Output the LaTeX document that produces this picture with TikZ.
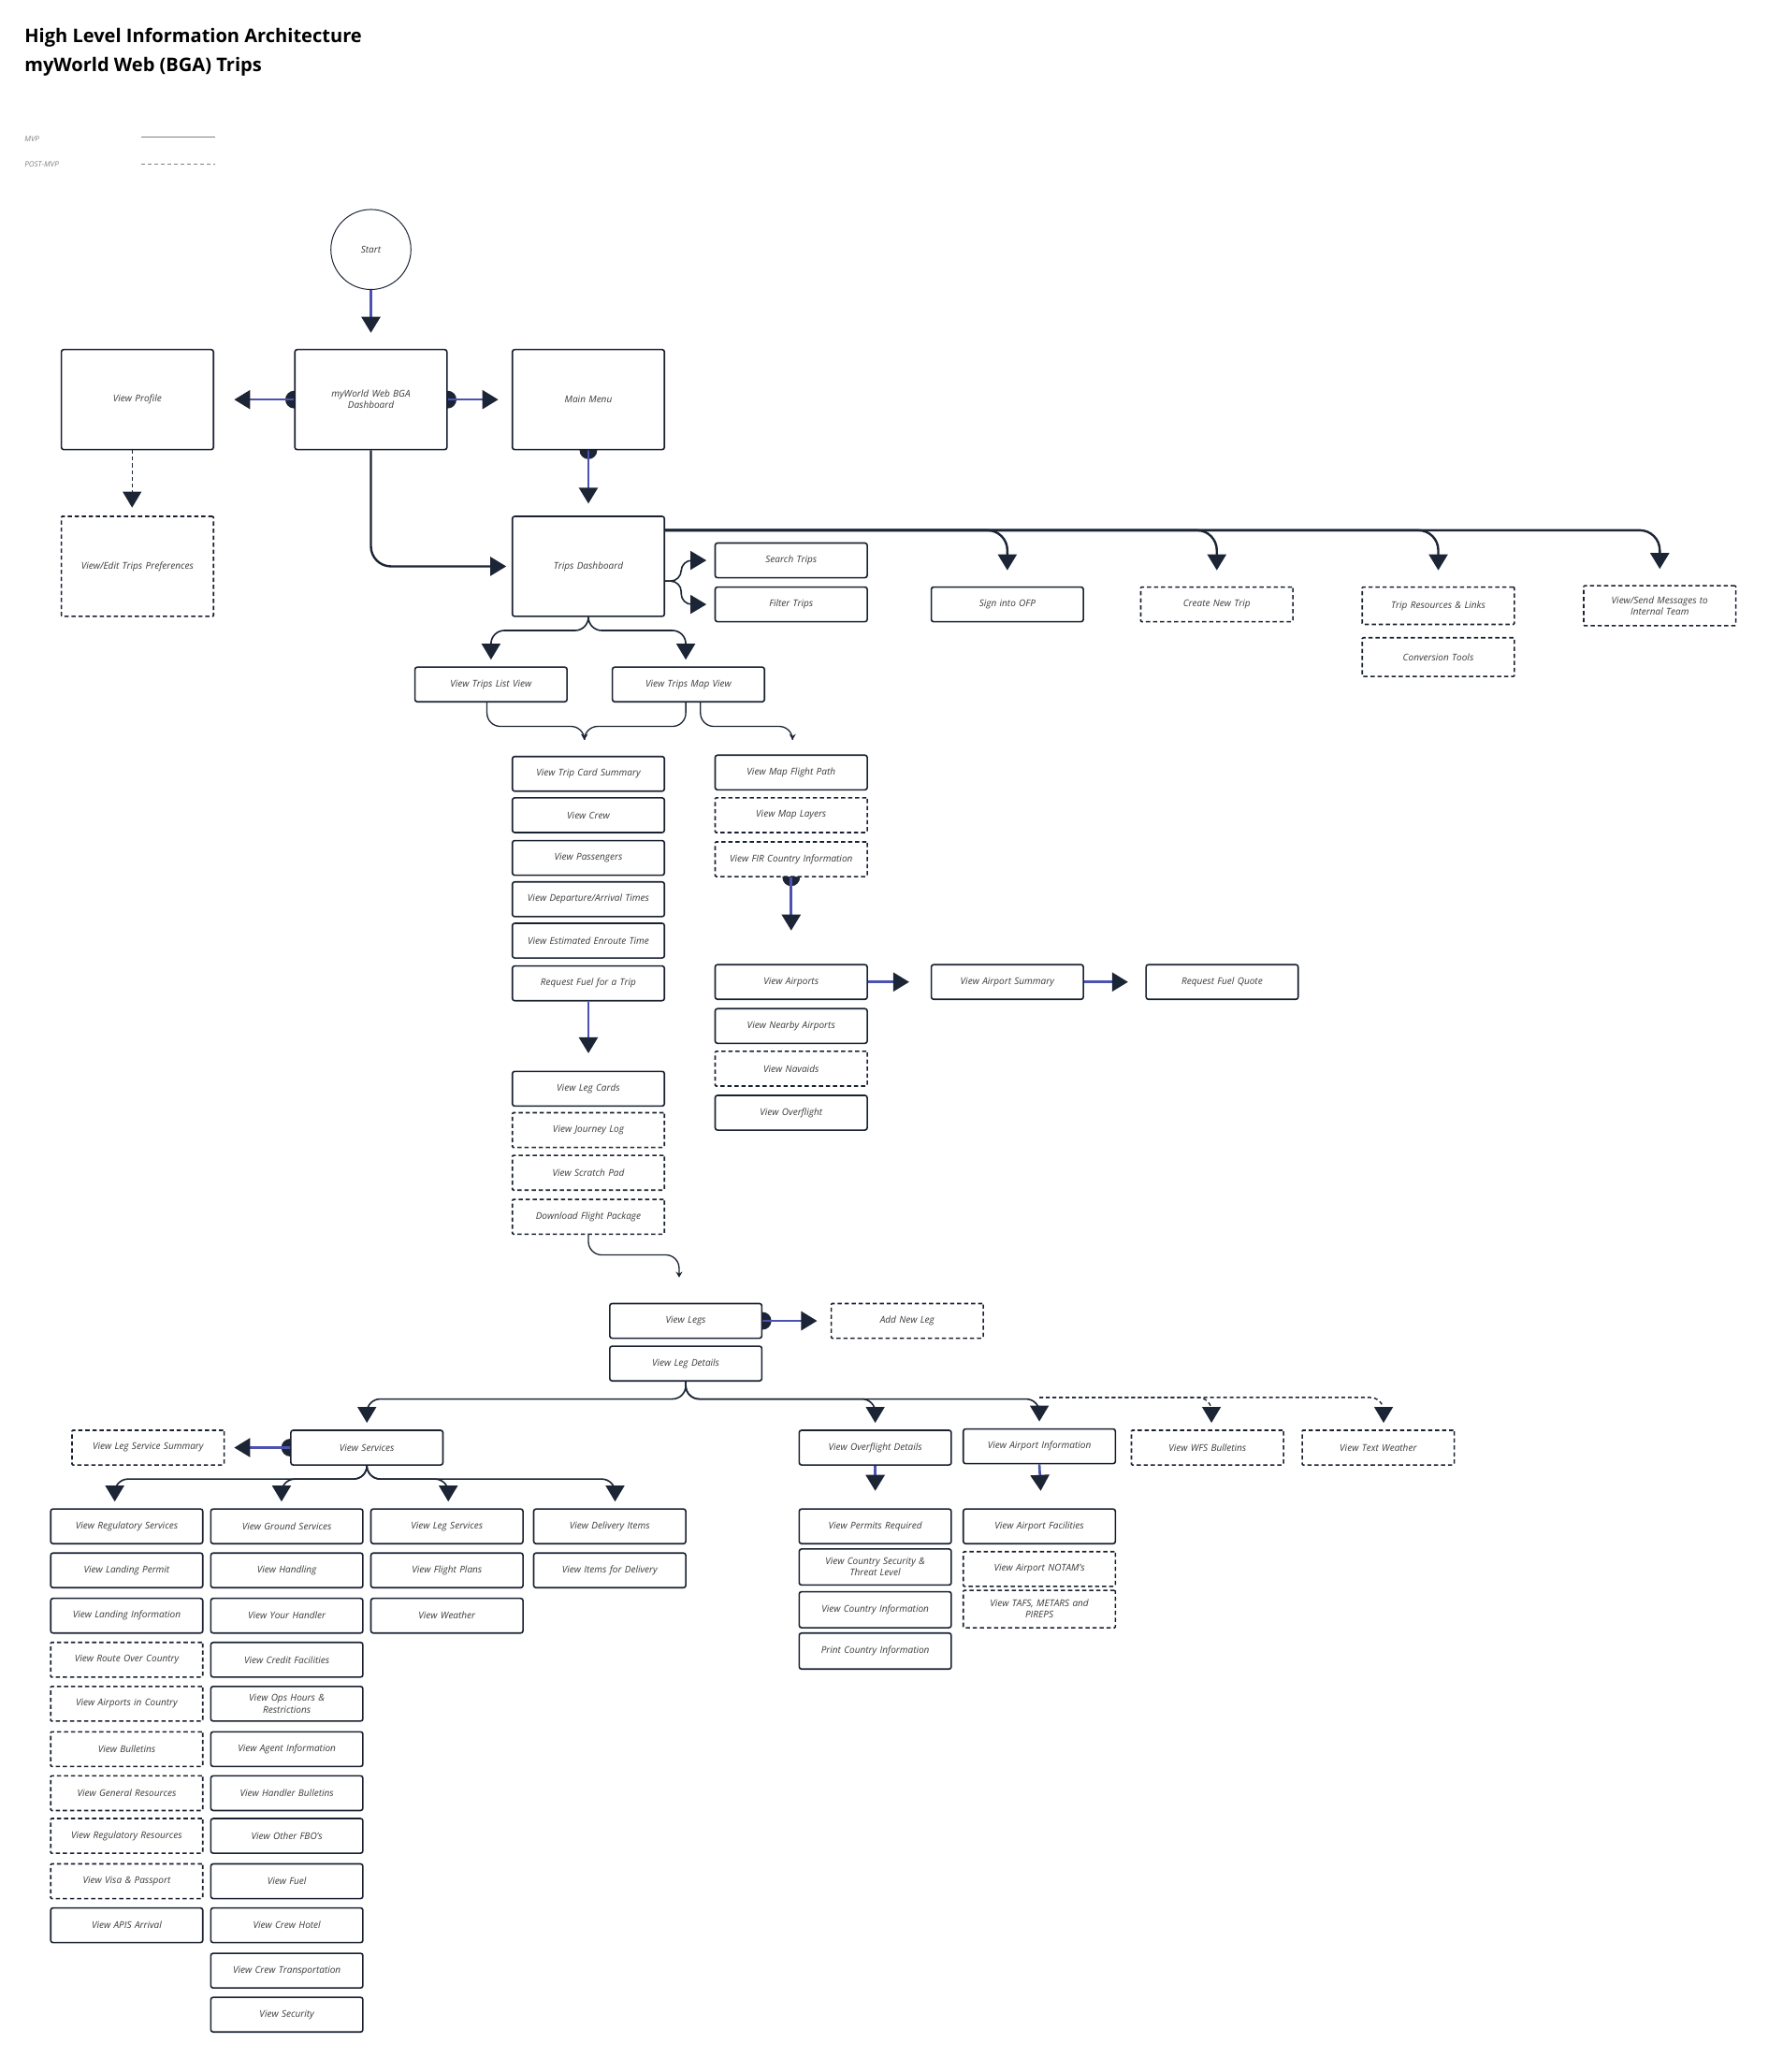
\documentclass[tikz,border=0pt]{standalone}
\usepackage{fontspec}
\setmainfont{Open Sans}
\usetikzlibrary{arrows.meta,calc,backgrounds}
\definecolor{nav}{HTML}{1C2536}
\definecolor{bl}{HTML}{4B52B0}
\definecolor{txt}{HTML}{3A3A3A}
\begin{document}
\begin{tikzpicture}[x=0.05cm,y=-0.05cm,
 box/.style={draw=nav!90!black,rounded corners=2.5pt,fill=white,line width=1.6pt,minimum width=5.7cm,minimum height=1.3cm,align=center,font=\fontsize{10}{12}\selectfont\itshape,text=txt,inner sep=1pt,text width=5.4cm},
 dbox/.style={box,dash pattern=on 4.5pt off 3pt,rounded corners=1pt},
 big/.style={minimum height=3.75cm},
 tip/.style={-{Triangle[width=20pt,length=17pt,color=nav]}},
 stip/.style={-{Stealth[width=7pt,length=6pt,color=nav]}},
 mainc/.style={draw=nav,line width=2.4pt,tip,rounded corners=0.75cm},
 midc/.style={draw=nav,line width=1.6pt,tip,rounded corners=0.5cm},
 thinc/.style={draw=nav,line width=1.3pt,stip,rounded corners=0.5cm},
 bluec/.style={draw=bl,line width=2.6pt,tip},
 dotc/.style={fill=nav}]
\useasboundingbox (0,0) rectangle (1325,1553);
% title and legend
\node[anchor=west,font=\fontsize{20}{24}\selectfont\bfseries] (t1) at (16,28) {High Level Information Architecture};
\node[anchor=west,font=\fontsize{20}{24}\selectfont\bfseries] (t2) at (16,50) {myWorld Web (BGA) Trips};
\node[anchor=west,font=\fontsize{8}{10}\selectfont\itshape,text=gray] (l1) at (16,104) {MVP};
\node[anchor=west,font=\fontsize{8}{10}\selectfont\itshape,text=gray] (l2) at (16,123) {POST-MVP};
\coordinate (la) at (106,103); \coordinate (lb) at (161,103);
\coordinate (lc) at (106,123); \coordinate (ld) at (161,123);
\draw[gray,line width=1pt] (la) -- (lb);
\draw[gray,line width=1pt,dash pattern=on 4pt off 3pt] (lc) -- (ld);
% nodes
\node[draw=nav,circle,minimum size=3cm,line width=1pt,font=\fontsize{10}{12}\selectfont\itshape,text=txt,fill=white] (start) at (278,187) {Start};
\node[box,big] (dash) at (278,299.5) {myWorld Web BGA\\Dashboard};
\node[box,big] (prof) at (103,299.5) {View Profile};
\node[box,big] (menu) at (441,299.5) {Main Menu};
\node[dbox,big] (pref) at (103,424.5) {View/Edit Trips Preferences};
\node[box,big] (td) at (441,424.5) {Trips Dashboard};
\node[box] (search) at (593,420) {Search Trips};
\node[box] (filter) at (593,453) {Filter Trips};
\node[box] (ofp) at (755,453) {Sign into OFP};
\node[dbox] (create) at (912,453) {Create New Trip};
\node[dbox,minimum height=1.4cm] (res) at (1078,454) {Trip Resources \& Links};
\node[dbox,minimum height=1.45cm] (conv) at (1078,492.5) {Conversion Tools};
\node[dbox,minimum height=1.5cm] (msg) at (1244,454) {View/Send Messages to\\Internal Team};
\node[box] (list) at (368,513) {View Trips List View};
\node[box] (map) at (516,513) {View Trips Map View};
\node[box] (tcs) at (441,580) {View Trip Card Summary};
\node[box] (crew) at (441,611) {View Crew};
\node[box] (pax) at (441,643) {View Passengers};
\node[box] (dat) at (441,674) {View Departure/Arrival Times};
\node[box] (eet) at (441,705) {View Estimated Enroute Time};
\node[box] (rft) at (441,737) {Request Fuel for a Trip};
\node[box] (mfp) at (593,579) {View Map Flight Path};
\node[dbox] (ml) at (593,611) {View Map Layers};
\node[dbox] (fir) at (593,644) {View FIR Country Information};
\node[box] (lc1) at (441,816) {View Leg Cards};
\node[dbox] (jl) at (441,847) {View Journey Log};
\node[dbox] (sp) at (441,879) {View Scratch Pad};
\node[dbox] (dfp) at (441,912) {Download Flight Package};
\node[box] (ap) at (593,736) {View Airports};
\node[box] (nap) at (593,769) {View Nearby Airports};
\node[dbox] (nav1) at (593,801) {View Navaids};
\node[box] (ovl) at (593,834) {View Overflight};
\node[box] (aps) at (755,736) {View Airport Summary};
\node[box] (rfq) at (916,736) {Request Fuel Quote};
\node[box] (legs) at (514,990) {View Legs};
\node[dbox] (add) at (680,990) {Add New Leg};
\node[box] (legd) at (514,1022) {View Leg Details};
\node[dbox] (lss) at (111,1085) {View Leg Service Summary};
\node[box] (svc) at (275,1085) {View Services};
\node[box] (ovf) at (656,1085) {View Overflight Details};
\node[box] (api) at (779,1084) {View Airport Information};
\node[dbox] (wfs) at (905,1085) {View WFS Bulletins};
\node[dbox] (tw) at (1033,1085) {View Text Weather};
% service columns
\node[box] (a1) at (95,1144) {View Regulatory Services};
\node[box] (a2) at (95,1177) {View Landing Permit};
\node[box] (a3) at (95,1211) {View Landing Information};
\node[dbox] (a4) at (95,1244) {View Route Over Country};
\node[dbox] (a5) at (95,1277) {View Airports in Country};
\node[dbox] (a6) at (95,1311) {View Bulletins};
\node[dbox] (a7) at (95,1344) {View General Resources};
\node[dbox] (a8) at (95,1376) {View Regulatory Resources};
\node[dbox] (a9) at (95,1410) {View Visa \& Passport};
\node[box] (a10) at (95,1443) {View APIS Arrival};
\node[box] (b1) at (215,1144) {View Ground Services};
\node[box] (b2) at (215,1177) {View Handling};
\node[box] (b3) at (215,1211) {View Your Handler};
\node[box] (b4) at (215,1244) {View Credit Facilities};
\node[box] (b5) at (215,1277) {View Ops Hours \&\\Restrictions};
\node[box] (b6) at (215,1311) {View Agent Information};
\node[box] (b7) at (215,1344) {View Handler Bulletins};
\node[box] (b8) at (215,1376) {View Other FBO's};
\node[box] (b9) at (215,1410) {View Fuel};
\node[box] (b10) at (215,1443) {View Crew Hotel};
\node[box] (b11) at (215,1477) {View Crew Transportation};
\node[box] (b12) at (215,1510) {View Security};
\node[box] (c1) at (335,1144) {View Leg Services};
\node[box] (c2) at (335,1177) {View Flight Plans};
\node[box] (c3) at (335,1211) {View Weather};
\node[box] (d1) at (457,1144) {View Delivery Items};
\node[box] (d2) at (457,1177) {View Items for Delivery};
\node[box] (o1) at (656,1144) {View Permits Required};
\node[box,minimum height=1.35cm] (o2) at (656,1174.5) {View Country Security \&\\Threat Level};
\node[box,minimum height=1.35cm] (o3) at (656,1206.5) {View Country Information};
\node[box,minimum height=1.35cm] (o4) at (656,1237.5) {Print Country Information};
\node[box] (p1) at (779,1144) {View Airport Facilities};
\node[dbox] (p2) at (779,1176) {View Airport NOTAM's};
\node[dbox,minimum height=1.4cm] (p3) at (779,1206) {View TAFS, METARS and\\PIREPS};
% connectors
\begin{pgfonlayer}{background}
\draw[bluec] (start.south) -- ($(dash.north)+(0,-12)$);
\fill[nav] (dash.west) circle (0.33cm);
\draw[bluec] (dash.west) -- ($(prof.east)+(15,0)$);
\fill[nav] (dash.east) circle (0.33cm);
\draw[bluec] (dash.east) -- ($(menu.west)+(-10,0)$);
\fill[nav] (menu.south) circle (0.33cm);
\draw[bluec] (menu.south) -- ($(td.north)+(0,-9)$);
\draw[mainc] (dash.south) |- ($(td.west)+(-4,0)$);
\draw[draw=nav,line width=1.4pt,dash pattern=on 4pt off 3pt,tip] ($(prof.south)+(-4,0)$) -- ($(pref.north)+(-4,-6)$);
\foreach \t in {ofp,create,res,msg}
  \draw[mainc] ($(td.north east)+(0,11)$) -| ($(\t.north)+(0,-12)$);
\draw[midc,rounded corners=0.4cm] ($(td.east)+(0,11)$) -- ++(12,0) |- ($(search.west)+(-6,0)$);
\draw[midc,rounded corners=0.4cm] ($(td.east)+(0,11)$) -- ++(12,0) |- ($(filter.west)+(-6,0)$);
\draw[midc] (td.south) -- ++(0,10) -| ($(list.north)+(0,-5)$);
\draw[midc] (td.south) -- ++(0,10) -| ($(map.north)+(-2,-5)$);
\draw[thinc] ($(list.south)+(-3,0)$) |- ($(tcs.north)+(-3,-22)$) -- ($(tcs.north)+(-3,-12)$);
\draw[thinc] ($(map.south)+(-2,0)$) |- ($(tcs.north)+(-3,-22)$) -- ($(tcs.north)+(-3,-12)$);
\draw[thinc] ($(map.south)+(9,0)$) |- ($(mfp.north)+(1,-21)$) -- ($(mfp.north)+(1,-11)$);
\draw[bluec] (rft.south) -- ($(lc1.north)+(0,-13)$);
\fill[nav] (fir.south) circle (0.33cm);
\draw[bluec] (fir.south) -- ($(ap.north)+(0,-25)$);
\draw[bluec] (ap.east) -- ($(aps.west)+(-16,0)$);
\draw[bluec] (aps.east) -- ($(rfq.west)+(-13,0)$);
\draw[thinc] (dfp.south) -- ++(0,15) -| ($(legs.north)+(-5,-19)$);
\fill[nav] (legs.east) circle (0.33cm);
\draw[bluec] (legs.east) -- ($(add.west)+(-10,0)$);
\foreach \t in {svc,ovf,api}
  \draw[midc] (legd.south) -- ++(0,13) -| ($(\t.north)+(0,-5)$);
\draw[draw=nav,line width=1.4pt,tip,dash pattern=on 4pt off 3pt,rounded corners=0.5cm] ($(api.north)+(0,-23)$) -| ($(wfs.north)+(3,-5)$);
\draw[draw=nav,line width=1.4pt,tip,dash pattern=on 4pt off 3pt,rounded corners=0.5cm] ($(api.north)+(0,-23)$) -| ($(tw.north)+(4,-5)$);
\fill[nav] (svc.west) circle (0.33cm);
\draw[bluec] (svc.west) -- ($(lss.east)+(7,0)$);
\draw[midc] (svc.south) -- ++(0,10) -| ($(a1.north)+(-9,-5)$);
\draw[midc] (svc.south) -- ++(0,10) -| ($(b1.north)+(-4,-5)$);
\draw[midc] (svc.south) -- ++(0,10) -| ($(c1.north)+(1,-5)$);
\draw[midc] (svc.south) -- ++(0,10) -| ($(d1.north)+(4,-5)$);
\draw[bluec] (ovf.south) -- ($(o1.north)+(0,-13)$);
\draw[bluec] (api.south) -- ($(p1.north)+(1,-13)$);
\end{pgfonlayer}
\end{tikzpicture}
\end{document}
